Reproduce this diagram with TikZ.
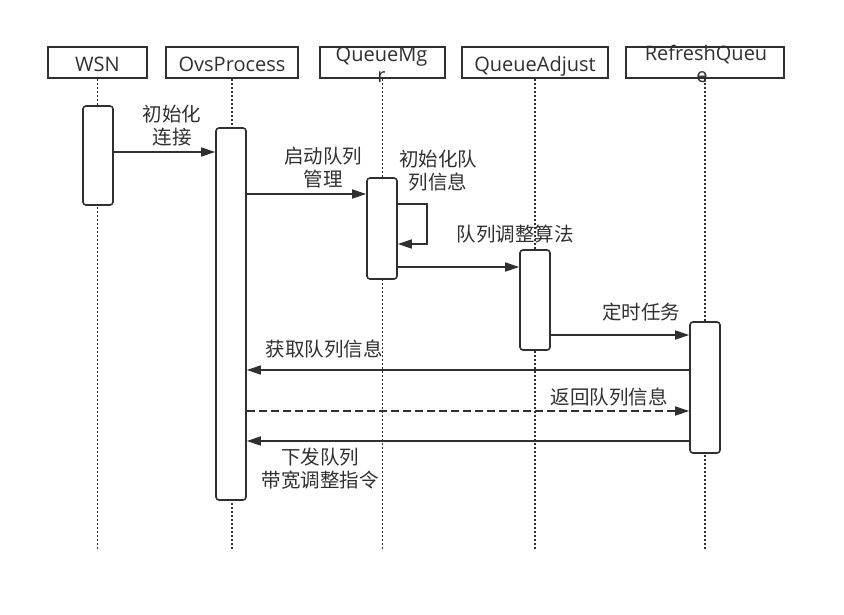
\documentclass[tikz,border=0pt]{standalone}
\usepackage{fontspec}
\setmainfont{Open Sans}
\newfontfamily\cjk{Noto Sans CJK SC}
\usetikzlibrary{arrows.meta}
\definecolor{ink}{HTML}{303030}
\begin{document}
\begin{tikzpicture}[x=1pt,y=-1pt,
  hdr/.style={draw=ink, line width=1.6pt, minimum height=31pt, inner sep=0, fill=white},
  htxt/.style={font=\fontsize{20}{21}\selectfont, text=ink, anchor=base, inner sep=0},
  bar/.style={draw=ink, line width=1.6pt, fill=white, rounded corners=3pt, minimum width=30pt, inner sep=0},
  life/.style={draw=ink, line width=1.6pt, dash pattern=on 1.8pt off 2.2pt},
  msg/.style={draw=ink, line width=1.6pt, -{Triangle[length=14pt,width=9pt]}},
  lbl/.style={font=\cjk\fontsize{19.5}{23}\selectfont, text=ink, align=center, inner sep=0},
]
\useasboundingbox (0,0) rectangle (844,614);
\fill[white] (0,0) rectangle (844,614);
% headers
\node[hdr, minimum width=99pt]  (wsn) at (97.5,62.5) {};
\node[hdr, minimum width=132pt] (ovs) at (232,62.5) {};
\node[hdr, minimum width=125pt] (mgr) at (382.5,62.5) {};
\node[hdr, minimum width=146pt] (adj) at (535,62.5) {};
\node[hdr, minimum width=158pt] (ref) at (705,62.5) {};
% lifeline ends
\coordinate (wsnE) at (97.5,549);
\coordinate (ovsE) at (232,549);
\coordinate (mgrE) at (382.5,549);
\coordinate (adjE) at (535,549);
\coordinate (refE) at (705,549);
\draw[life] (wsn.south) -- (wsnE);
\draw[life] (ovs.south) -- (ovsE);
\draw[life] (mgr.south) -- (mgrE);
\draw[life] (adj.south) -- (adjE);
\draw[life] (ref.south) -- (refE);
% header texts
\node[htxt] (wsnT) at (97.5,71) {WSN};
\node[htxt] (ovsT) at (232,71) {OvsProcess};
\node[htxt] (mgrT1) at (381.5,61) {QueueMg};
\node[htxt] (mgrT2) at (381.5,82) {r};
\node[htxt] (adjT) at (535,71) {QueueAdjust};
\node[htxt] (refT1) at (706,60) {RefreshQueu};
\node[htxt] (refT2) at (702,82) {e};
% activation bars
\node[bar, minimum height=99pt]  (wsnbar) at (98,155.5) {};
\node[bar, minimum height=372pt] (ovsbar) at (231,314) {};
\node[bar, minimum height=101pt] (mgrbar) at (382,228.5) {};
\node[bar, minimum height=100pt] (adjbar) at (535,300) {};
\node[bar, minimum height=131pt] (refbar) at (705,387.5) {};
% messages
\coordinate (y1) at (0,152);
\coordinate (y2) at (0,194);
\coordinate (y3) at (0,204);
\coordinate (y4) at (0,244);
\coordinate (y5) at (0,267);
\coordinate (y6) at (0,335);
\coordinate (y7) at (0,370);
\coordinate (y8) at (0,411);
\coordinate (y9) at (0,441);
\coordinate (loopA) at (427,204);
\coordinate (loopB) at (427,244);
\draw[msg] (wsnbar.east |- y1) -- (ovsbar.west |- y1);
\draw[msg] (ovsbar.east |- y2) -- (mgrbar.west |- y2);
\draw[msg] (mgrbar.east |- y3) -- (loopA) -- (loopB) -- (mgrbar.east |- y4);
\draw[msg] (mgrbar.east |- y5) -- (adjbar.west |- y5);
\draw[msg] (adjbar.east |- y6) -- (refbar.west |- y6);
\draw[msg] (refbar.west |- y7) -- (ovsbar.east |- y7);
\draw[msg, dash pattern=on 8pt off 4pt] (ovsbar.east |- y8) -- (refbar.west |- y8);
\draw[msg] (refbar.west |- y9) -- (ovsbar.east |- y9);
% labels
\node[lbl] (l1) at (172,126) {初始化\\连接};
\node[lbl] (l2) at (323,167.5) {启动队列\\管理};
\node[lbl] (l3) at (438,170.5) {初始化队\\列信息};
\node[lbl] (l4) at (515,234) {队列调整算法};
\node[lbl] (l5) at (641,312) {定时任务};
\node[lbl] (l6) at (324,349) {获取队列信息};
\node[lbl] (l7) at (609,397) {返回队列信息};
\node[lbl] (l8) at (320,469) {下发队列\\带宽调整指令};
\end{tikzpicture}
\end{document}
